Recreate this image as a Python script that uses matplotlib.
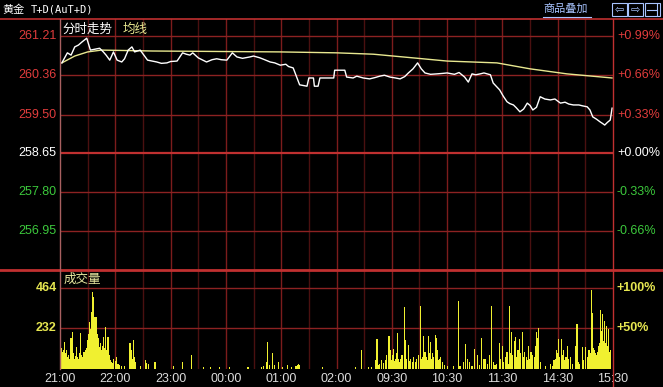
import matplotlib
matplotlib.use("Agg")
import matplotlib.pyplot as plt
from matplotlib.lines import Line2D
from matplotlib.patches import Rectangle

# minutes from 21:00 (night 21:00-02:30, day 09:00-11:30, 13:30-15:30)
time_ticks = [0, 60, 120, 180, 240, 300, 360, 420, 480, 540, 600]
time_labels = ["21:00", "22:00", "23:00", "00:00", "01:00", "02:00",
               "09:30", "10:30", "11:30", "14:30", "15:30"]

price_levels = [261.21, 260.36, 259.50, 258.65, 257.80, 256.95]
pct_labels = ["+0.99%", "+0.66%", "+0.33%", "+0.00%", "-0.33%", "-0.66%"]
base_price = 258.65

price_minutes = [2, 8, 12, 16, 20, 24, 29, 33, 38, 43, 47, 50, 54, 58, 62, 67, 70,
                 74, 78, 81, 87, 91, 95, 100, 105, 110, 116, 120, 127, 133, 137,
                 141, 144, 150, 155, 159, 165, 170, 175, 181, 187, 192, 198, 206,
                 210, 217, 222, 228, 233, 239, 245, 248, 253, 260, 268, 270, 275,
                 276, 280, 282, 297, 298, 309, 311, 318, 322, 329, 336, 342, 347,
                 352, 358, 364, 369, 374, 378, 383, 388, 392, 396, 402, 409, 415,
                 420, 428, 433, 439, 443, 447, 451, 456, 460, 467, 470, 477, 481,
                 485, 488, 492, 495, 499, 503, 507, 510, 513, 517, 521, 526, 532,
                 537, 543, 548, 552, 557, 563, 567, 572, 575, 578, 582, 586, 589,
                 591, 594, 597, 599]
prices = [260.63, 260.85, 260.80, 260.98, 261.02, 261.09, 261.17, 260.91, 260.93,
          260.95, 260.87, 260.80, 260.69, 260.87, 260.69, 260.65, 260.72, 260.91,
          260.98, 260.87, 260.91, 260.80, 260.69, 260.67, 260.65, 260.62, 260.63,
          260.66, 260.67, 260.85, 260.82, 260.80, 260.85, 260.74, 260.69, 260.65,
          260.70, 260.72, 260.70, 260.69, 260.85, 260.76, 260.73, 260.76, 260.78,
          260.74, 260.70, 260.65, 260.63, 260.58, 260.60, 260.55, 260.52, 260.15,
          260.12, 260.30, 260.30, 260.12, 260.12, 260.30, 260.30, 260.47, 260.47,
          260.32, 260.30, 260.34, 260.30, 260.28, 260.31, 260.34, 260.36, 260.32,
          260.30, 260.28, 260.33, 260.41, 260.50, 260.63, 260.50, 260.41, 260.38,
          260.39, 260.40, 260.41, 260.38, 260.42, 260.32, 260.21, 260.39, 260.37,
          260.39, 260.41, 260.37, 260.19, 260.04, 259.90, 259.78, 259.74, 259.71,
          259.65, 259.56, 259.62, 259.75, 259.70, 259.60, 259.66, 259.89, 259.84,
          259.82, 259.84, 259.75, 259.77, 259.73, 259.71, 259.71, 259.69, 259.67,
          259.60, 259.45, 259.40, 259.34, 259.30, 259.27, 259.33, 259.38, 259.64]

avg_minutes = [2, 16, 30, 45, 100, 239, 300, 340, 383, 420, 474, 510, 550, 599]
avg_prices = [260.63, 260.78, 260.87, 260.91, 260.89, 260.87, 260.85, 260.82,
              260.74, 260.67, 260.63, 260.50, 260.39, 260.30]

volume_levels = [464, 232]
volume_pct = ["+100%", "+50%"]

night_volume = [
    (1, 128), (2, 120), (3, 95), (4, 110), (5, 156), (6, 90), (7, 109), (8, 70),
    (9, 80), (10, 60), (11, 95), (12, 178), (13, 110), (14, 214), (15, 90),
    (16, 60), (17, 75), (18, 124), (19, 70), (20, 55), (21, 90), (22, 206),
    (23, 80), (24, 60), (25, 70), (26, 95), (27, 80), (28, 110), (29, 120),
    (30, 166), (31, 200), (32, 271), (33, 230), (34, 328), (35, 443), (36, 414),
    (37, 300), (38, 281), (39, 300), (40, 263), (41, 200), (42, 178), (43, 128),
    (44, 150), (45, 109), (46, 130), (47, 185), (48, 120), (49, 242), (50, 100),
    (51, 109), (52, 185), (53, 90), (54, 80), (55, 50), (56, 40), (57, 35),
    (58, 60), (60, 45), (61, 70), (63, 30), (65, 25), (67, 20), (70, 15),
    (76, 149), (77, 90), (78, 109), (79, 60), (80, 166), (81, 70), (82, 40),
    (87, 20), (93, 50), (94, 35), (96, 30), (103, 40), (123, 20), (133, 40),
    (143, 80), (156, 10), (163, 10), (173, 13), (184, 10), (204, 10), (219, 10),
    (221, 15), (224, 42), (225, 156), (227, 25), (231, 94), (233, 25), (237, 40),
    (241, 12), (247, 25), (251, 12), (256, 20), (258, 25), (259, 30), (260, 25),
    (285, 12), (321, 12),
]
day_volume = [
    (327, 109), (335, 12), (338, 10), (342, 52), (344, 170), (345, 25), (347, 30),
    (349, 52), (351, 35), (353, 52), (354, 80), (356, 60), (357, 189), (358, 70),
    (359, 109), (360, 50), (361, 80), (362, 115), (363, 45), (364, 60), (365, 90),
    (366, 208), (367, 55), (368, 42), (369, 60), (371, 80), (372, 40), (374, 357),
    (375, 166), (376, 60), (378, 140), (379, 45), (380, 60), (382, 42), (384, 70),
    (386, 42), (387, 55), (389, 80), (391, 361), (392, 60), (393, 70), (394, 189),
    (395, 80), (396, 100), (398, 70), (399, 50), (400, 189), (401, 90), (402, 156),
    (403, 60), (404, 90), (405, 70), (407, 195), (408, 176), (409, 80), (410, 109),
    (411, 50), (412, 60), (413, 70), (415, 42), (417, 25), (420, 15), (427, 20),
    (432, 391), (434, 20), (438, 40), (440, 143), (442, 60), (444, 40), (447, 15),
    (450, 113), (453, 80), (455, 25), (457, 180), (460, 60), (462, 60), (464, 30),
    (466, 80), (468, 361), (470, 40), (472, 25), (474, 30), (477, 151), (478, 60),
    (480, 130), (481, 40), (483, 70), (485, 100), (486, 30), (488, 361), (489, 90),
    (490, 214), (491, 80), (493, 160), (494, 185), (495, 70), (497, 110), (498, 60),
    (499, 170), (500, 90), (502, 214), (503, 70), (504, 100), (506, 70), (507, 50),
    (508, 130), (509, 60), (511, 100), (513, 80), (515, 70), (516, 130), (517, 214),
    (518, 180), (519, 233), (521, 40), (527, 20), (532, 30), (534, 20), (536, 50),
    (538, 60), (539, 110), (540, 90), (541, 170), (542, 70), (544, 170), (545, 80),
    (546, 110), (548, 50), (549, 70), (551, 130), (552, 60), (554, 70), (556, 30),
    (559, 130), (561, 258), (562, 40), (564, 30), (567, 125), (568, 50), (570, 125),
    (572, 70), (573, 60), (574, 110), (575, 90), (577, 453), (578, 319), (579, 120),
    (580, 110), (581, 90), (582, 80), (583, 100), (584, 130), (585, 150), (586, 338),
    (587, 180), (588, 220), (589, 315), (590, 160), (591, 275), (592, 150),
    (593, 247), (594, 130), (595, 228), (596, 100), (597, 110),
]

CJK = ["Noto Sans CJK SC", "DejaVu Sans"]
NUM = "Liberation Sans"
RED = "#e03c3c"
GREEN = "#3cc83c"
YELLOW = "#e6e650"
GRID_MAJOR = "#7c1c1c"
GRID_MINOR = "#4a1010"
GRID_H = "#8c2222"
BORDER = "#c03030"

W, H = 663, 387
fig = plt.figure(figsize=(W / 100, H / 100), dpi=100, facecolor="black")


def fx(px):
    return px / W


def fy(py):
    return 1 - py / H


ax = fig.add_axes([fx(60), fy(270), fx(553), (270 - 19) / H], facecolor="black")
axv = fig.add_axes([fx(60), fy(369), fx(553), (369 - 270) / H], facecolor="black")

for a in (ax, axv):
    a.set_xlim(0, 600)
    for m in range(30, 600, 30):
        major = m % 60 == 0
        a.axvline(m, color=GRID_MAJOR if major else GRID_MINOR, lw=1, zorder=0)
    for s in a.spines.values():
        s.set_visible(False)
    a.tick_params(length=0)
    a.set_yticks([])

ax.set_ylim(256.10, 261.59)
ax.set_xticks([])
for p in price_levels:
    if p == base_price:
        ax.axhline(p, color=BORDER, lw=1.6, zorder=0)
    else:
        ax.axhline(p, color=GRID_H, lw=1, zorder=0)

ax.plot(avg_minutes, avg_prices, color="#e8e890", lw=1, zorder=3)
ax.plot(price_minutes, prices, color="white", lw=1, zorder=4)

ytr = ax.get_yaxis_transform()
for p, pct in zip(price_levels, pct_labels):
    if p > base_price:
        c = RED
    elif p < base_price:
        c = GREEN
    else:
        c = "white"
    ax.text(-0.006, p, f"{p:.2f}", transform=ytr, ha="right", va="center",
            color=c, fontsize=9, family=NUM)
    ax.text(1.007, p, pct, transform=ytr, ha="left", va="center",
            color=c, fontsize=9, family=NUM)

ax.text(0.004, 0.985, "分时走势", transform=ax.transAxes, ha="left", va="top",
        color="white", fontsize=9, family=CJK)
ax.text(0.113, 0.985, "均线", transform=ax.transAxes, ha="left", va="top",
        color="#e8e890", fontsize=9, family=CJK)

# volume panel
vol_x = [m for m, v in night_volume + day_volume]
vol_y = [v for m, v in night_volume + day_volume]
axv.set_ylim(0, 567)
for v in volume_levels:
    axv.axhline(v, color=GRID_H, lw=1, zorder=0)
axv.bar(vol_x, vol_y, width=1.25, color="#f0f030", linewidth=0, zorder=3)

vtr = axv.get_yaxis_transform()
for v, pct in zip(volume_levels, volume_pct):
    axv.text(-0.006, v, str(v), transform=vtr, ha="right", va="center",
             color=YELLOW, fontsize=9, family=NUM, fontweight="bold")
    axv.text(1.007, v, pct, transform=vtr, ha="left", va="center",
             color=YELLOW, fontsize=9, family=NUM, fontweight="bold")
axv.text(0.006, 0.97, "成交量", transform=axv.transAxes, ha="left", va="top",
         color="#e8e8a0", fontsize=9, family=CJK)

axv.set_xticks(time_ticks)
axv.set_xticklabels(time_labels, color="#dcdcdc", fontsize=9, family=NUM)
axv.tick_params(axis="x", pad=3)

# frame lines
fig.add_artist(Line2D([0, 1], [fy(19), fy(19)], transform=fig.transFigure,
                      color=BORDER, lw=1.2))
fig.add_artist(Line2D([0, 1], [fy(270), fy(270)], transform=fig.transFigure,
                      color=BORDER, lw=2))
fig.add_artist(Line2D([fx(60), fx(60)], [fy(19), fy(369)], transform=fig.transFigure,
                      color="#a86060", lw=1))
fig.add_artist(Line2D([fx(613), fx(613)], [fy(19), fy(387)], transform=fig.transFigure,
                      color=BORDER, lw=1))

# header
fig.text(fx(2), fy(10), "黄金", color="white", fontsize=8, family=CJK,
         ha="left", va="center")
fig.text(fx(31), fy(10), "T+D(AuT+D)", color="white", fontsize=7.5,
         family="DejaVu Sans Mono", ha="left", va="center")
fig.text(fx(543), fy(9), "商品叠加", color="#a8c4ff", fontsize=8, family=CJK,
         ha="left", va="center")
fig.add_artist(Line2D([fx(543), fx(591)], [fy(17), fy(17)], transform=fig.transFigure,
                      color="#a8c4ff", lw=0.8))
for x0, sym in [(612, "⇦"), (628, "⇨"), (645, "")]:
    fig.add_artist(Rectangle((fx(x0), fy(16)), fx(15), 13 / H, transform=fig.transFigure,
                             fill=False, edgecolor="#a8c4ff", lw=0.8))
    if sym:
        fig.text(fx(x0 + 7.5), fy(9.5), sym, color="#a8c4ff", fontsize=8,
                 family="DejaVu Sans", ha="center", va="center")
fig.add_artist(Line2D([fx(647), fx(657)], [fy(9.5), fy(9.5)], transform=fig.transFigure,
                      color="#a8c4ff", lw=0.8))
fig.add_artist(Line2D([fx(657), fx(657)], [fy(4), fy(15)], transform=fig.transFigure,
                      color="#a8c4ff", lw=0.8))

fig.savefig("out.png", dpi=100, facecolor="black")
